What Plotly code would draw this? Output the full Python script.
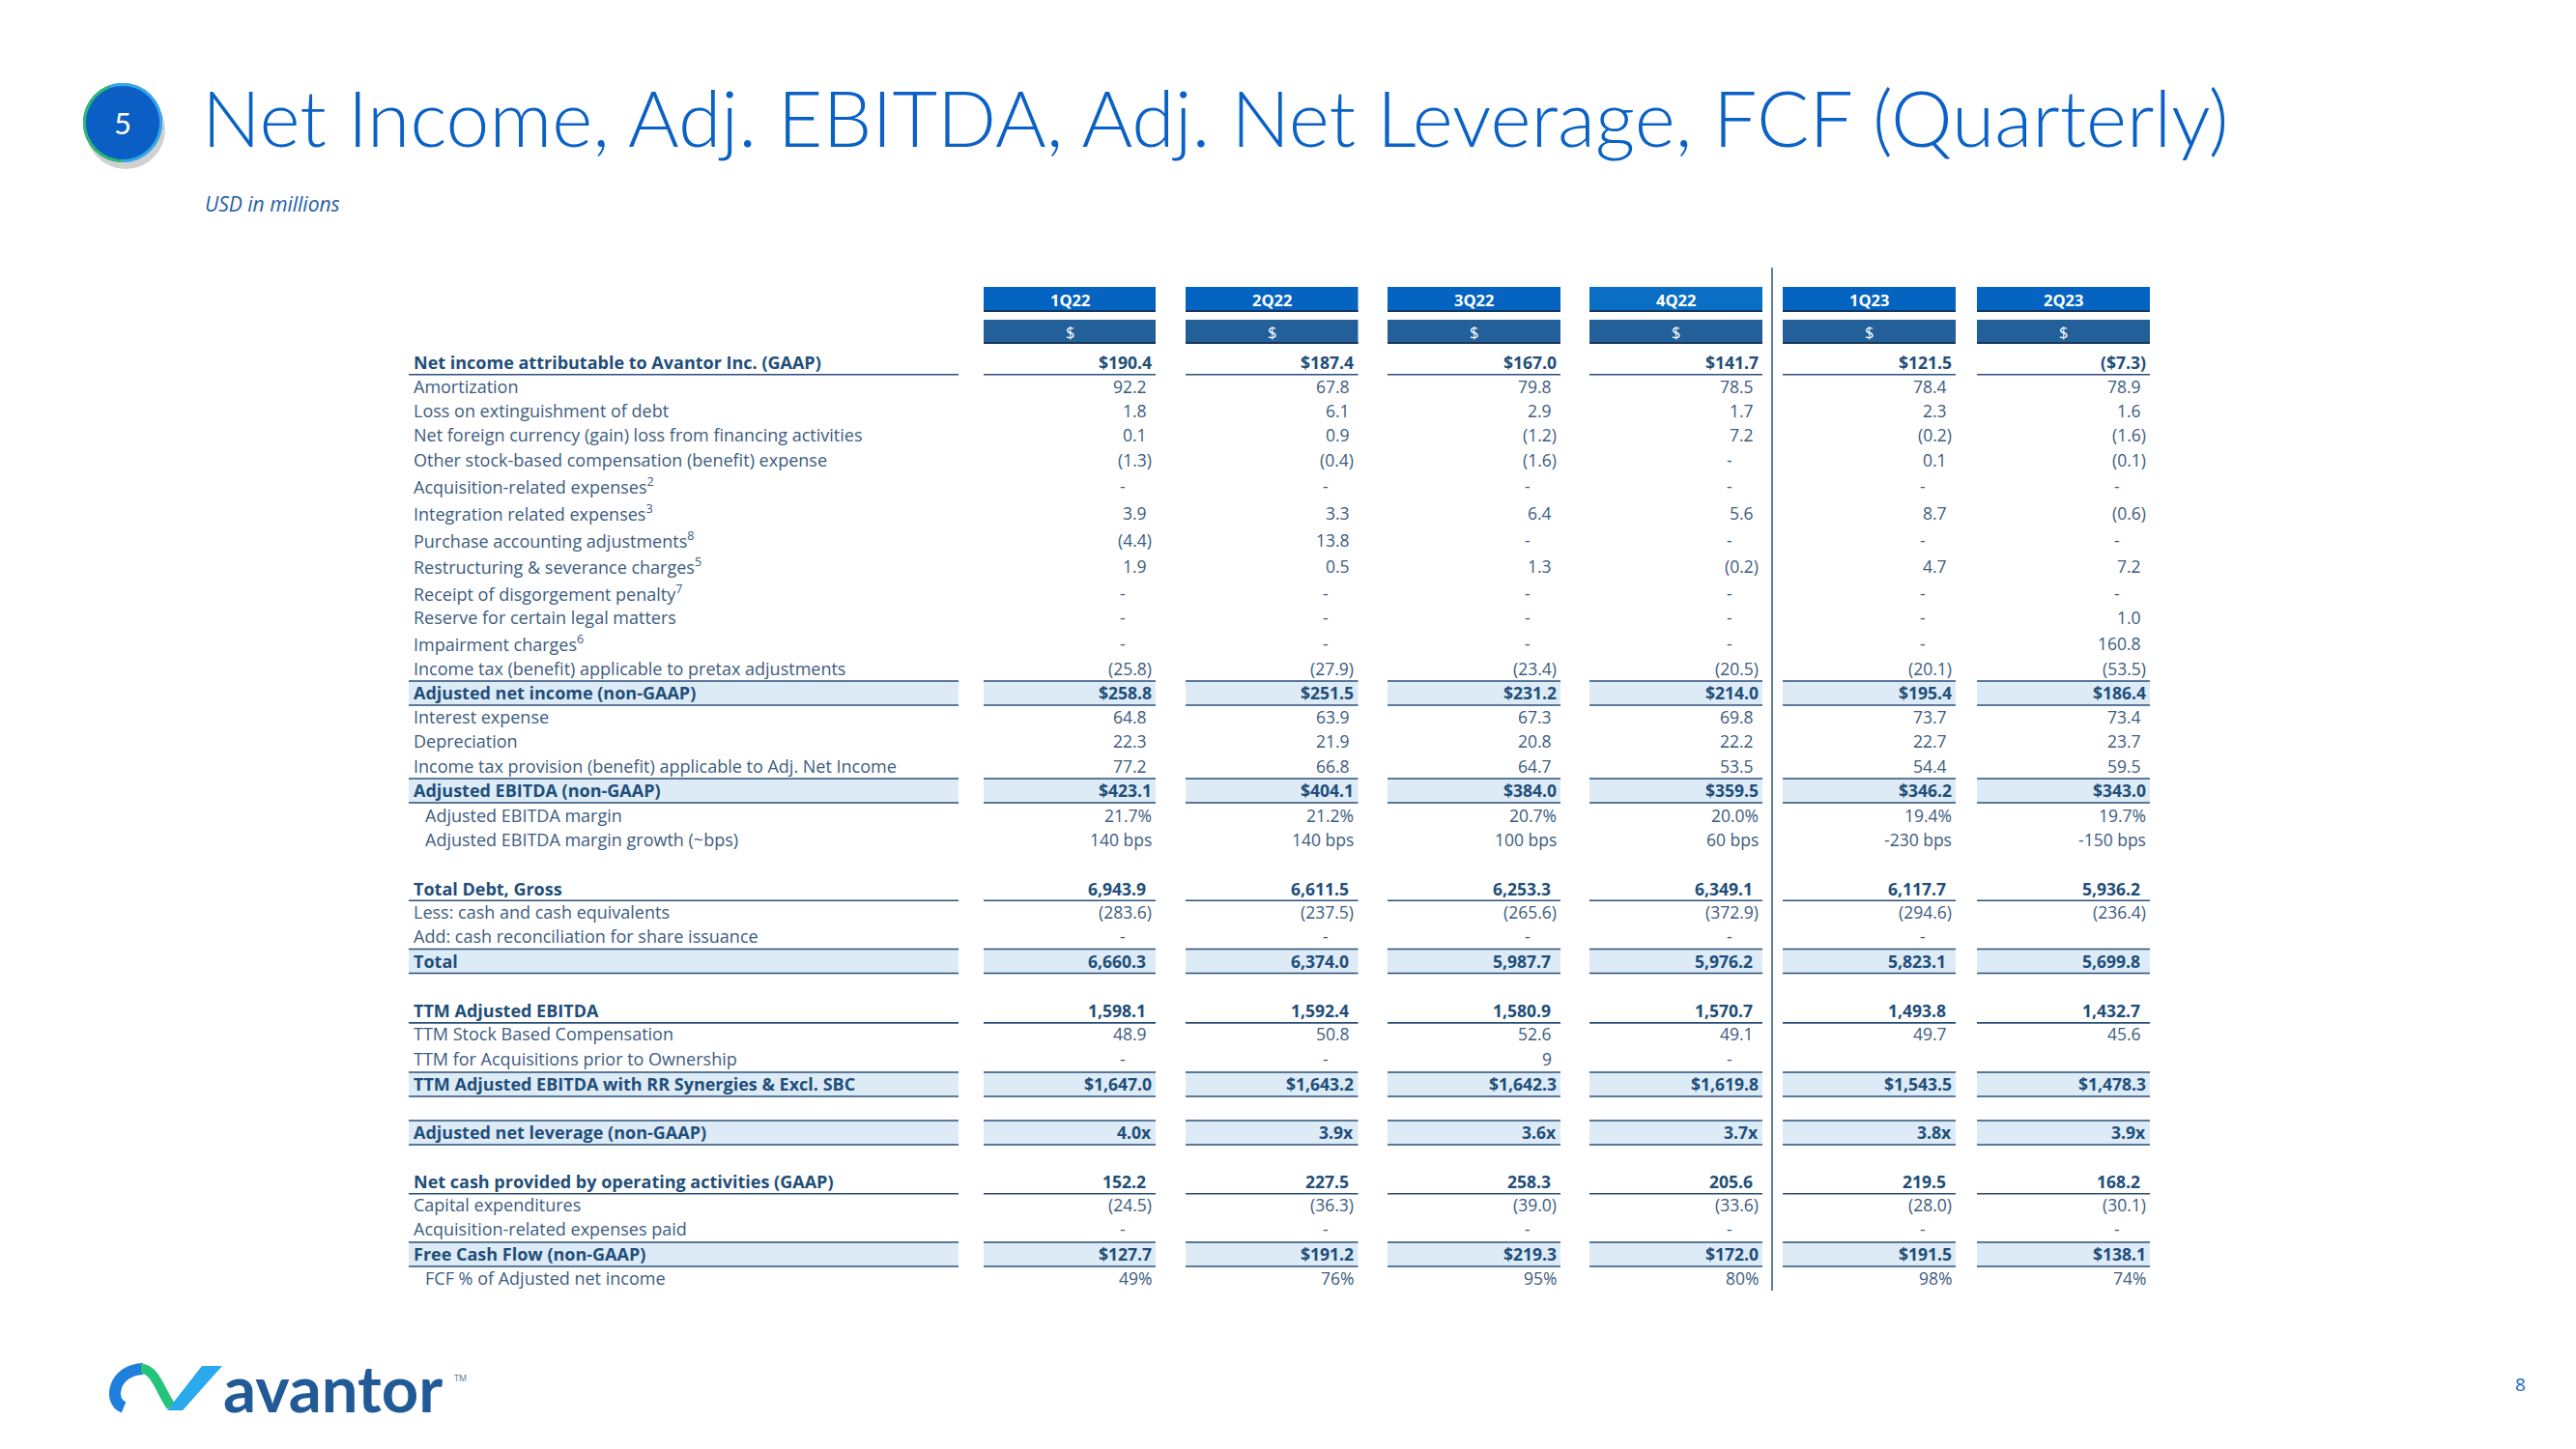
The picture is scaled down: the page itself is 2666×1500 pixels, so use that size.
import math
import plotly.graph_objects as go

W, H = 2666, 1500

# ---------------- data ----------------
quarters = ["1Q22", "2Q22", "3Q22", "4Q22", "1Q23", "2Q23"]

row_labels = [
    "Net income attributable to Avantor Inc. (GAAP)",
    "Amortization",
    "Loss on extinguishment of debt",
    "Net foreign currency (gain) loss from financing activities",
    "Other stock-based compensation (benefit) expense",
    "Acquisition-related expenses<sup>2</sup>",
    "Integration related expenses<sup>3</sup>",
    "Purchase accounting adjustments<sup>8</sup>",
    "Restructuring &amp; severance charges<sup>5</sup>",
    "Receipt of disgorgement penalty<sup>7</sup>",
    "Reserve for certain legal matters",
    "Impairment charges<sup>6</sup>",
    "Income tax (benefit) applicable to pretax adjustments",
    "Adjusted net income (non-GAAP)",
    "Interest expense",
    "Depreciation",
    "Income tax provision (benefit) applicable to Adj. Net Income",
    "Adjusted EBITDA (non-GAAP)",
    "Adjusted EBITDA margin",
    "Adjusted EBITDA margin growth (~bps)",
    "Total Debt, Gross",
    "Less: cash and cash equivalents",
    "Add: cash reconciliation for share issuance",
    "Total",
    "TTM Adjusted EBITDA",
    "TTM Stock Based Compensation",
    "TTM for Acquisitions prior to Ownership",
    "TTM Adjusted EBITDA with RR Synergies &amp; Excl. SBC",
    "Adjusted net leverage (non-GAAP)",
    "Net cash provided by operating activities (GAAP)",
    "Capital expenditures",
    "Acquisition-related expenses paid",
    "Free Cash Flow (non-GAAP)",
    "FCF % of Adjusted net income",
]

row_formats = (["dollar"] + ["num"] * 12 + ["dollar"] + ["num"] * 3 + ["dollar", "pct1", "bps"]
               + ["num"] * 6 + ["int", "dollar", "mult", "num", "num", "num", "dollar", "pct0"])

v_1q22 = [190.4, 92.2, 1.8, 0.1, -1.3, 0, 3.9, -4.4, 1.9, 0, 0, 0, -25.8, 258.8, 64.8, 22.3, 77.2,
          423.1, 21.7, 140, 6943.9, -283.6, 0, 6660.3, 1598.1, 48.9, 0, 1647.0, 4.0, 152.2, -24.5, 0, 127.7, 49]
v_2q22 = [187.4, 67.8, 6.1, 0.9, -0.4, 0, 3.3, 13.8, 0.5, 0, 0, 0, -27.9, 251.5, 63.9, 21.9, 66.8,
          404.1, 21.2, 140, 6611.5, -237.5, 0, 6374.0, 1592.4, 50.8, 0, 1643.2, 3.9, 227.5, -36.3, 0, 191.2, 76]
v_3q22 = [167.0, 79.8, 2.9, -1.2, -1.6, 0, 6.4, 0, 1.3, 0, 0, 0, -23.4, 231.2, 67.3, 20.8, 64.7,
          384.0, 20.7, 100, 6253.3, -265.6, 0, 5987.7, 1580.9, 52.6, 9, 1642.3, 3.6, 258.3, -39.0, 0, 219.3, 95]
v_4q22 = [141.7, 78.5, 1.7, 7.2, 0, 0, 5.6, 0, -0.2, 0, 0, 0, -20.5, 214.0, 69.8, 22.2, 53.5,
          359.5, 20.0, 60, 6349.1, -372.9, 0, 5976.2, 1570.7, 49.1, 0, 1619.8, 3.7, 205.6, -33.6, 0, 172.0, 80]
v_1q23 = [121.5, 78.4, 2.3, -0.2, 0.1, 0, 8.7, 0, 4.7, 0, 0, 0, -20.1, 195.4, 73.7, 22.7, 54.4,
          346.2, 19.4, -230, 6117.7, -294.6, 0, 5823.1, 1493.8, 49.7, None, 1543.5, 3.8, 219.5, -28.0, 0, 191.5, 98]
v_2q23 = [-7.3, 78.9, 1.6, -1.6, -0.1, 0, -0.6, 0, 7.2, 0, 1.0, 160.8, -53.5, 186.4, 73.4, 23.7, 59.5,
          343.0, 19.7, -150, 5936.2, -236.4, None, 5699.8, 1432.7, 45.6, None, 1478.3, 3.9, 168.2, -30.1, 0, 138.1, 74]

series = [v_1q22, v_2q22, v_3q22, v_4q22, v_1q23, v_2q23]

# ---------------- layout / style ----------------
FONT = "Open Sans"
TITLE_FONT = "Lato"
FS = 18
FSV = 17.5
C_TEXT = "#3d5c80"
C_BOLD = "#1f4e79"
C_LINE = "#2a5078"
C_SHADE = "#ddebf7"
C_HEAD = ["#0563c1", "#0563c1", "#0563c1", "#0a6fc4", "#0563c1", "#0563c1"]
C_SUB = "#23609a"
C_TITLE = "#0a61c6"

LABEL_COL = (423, 992)
VALUE_COLS = [(1018, 1196), (1227, 1405.5), (1436, 1615), (1645, 1824), (1845, 2024), (2046, 2225)]
ROW_KIND = (["under"] + ["plain"] * 12 + ["shade"] + ["plain"] * 3 + ["shade", "indent", "indent",
            "under", "plain", "plain", "shade", "under", "plain", "plain", "shade", "shade",
            "under", "plain", "plain", "shade", "indent"])
ROW_STEP = [0, 25, 25, 25, 26, 27, 28, 27.5, 27.5, 27.5, 25.5, 27, 26, 25, 25, 25, 26, 25, 25.5, 25,
            51, 24.7, 24.6, 25.7, 51.7, 23.5, 26, 26.3, 50, 51, 24, 25, 26, 25]
FIRST_Y = 375

row_y = []
acc = FIRST_Y
for s in ROW_STEP:
    acc += s
    row_y.append(acc)


def fmt(v, f):
    if v is None:
        return ""
    if f in ("num", "int"):
        if v == 0:
            return "-"
        s = f"{abs(v):,.1f}" if f == "num" else f"{abs(v):,.0f}"
        return f"({s})" if v < 0 else s
    if f == "dollar":
        s = f"${abs(v):,.1f}"
        return f"({s})" if v < 0 else s
    if f == "pct1":
        return f"{v:.1f}%"
    if f == "pct0":
        return f"{v:.0f}%"
    if f == "bps":
        return f"{v:.0f} bps"
    if f == "mult":
        return f"{v:.1f}x"
    return str(v)


fig = go.Figure()
fig.add_trace(go.Scatter(x=[0, W], y=[0, H], mode="markers", marker=dict(opacity=0), hoverinfo="skip"))

shapes = []
ann = []


def hline(x0, x1, y, w=1.6, color=C_LINE):
    shapes.append(dict(type="line", xref="x", yref="y", x0=x0, x1=x1, y0=y, y1=y,
                       line=dict(color=color, width=w)))


def rect(x0, x1, y0, y1, color):
    shapes.append(dict(type="rect", xref="x", yref="y", x0=x0, x1=x1, y0=y0, y1=y1,
                       fillcolor=color, line=dict(width=0), layer="below"))


def text(x, y, s, size, color, xanchor="left", weight="normal", family=FONT, italic=False):
    ann.append(dict(x=x, y=y, xref="x", yref="y", text=s, showarrow=False, xanchor=xanchor,
                    yanchor="middle", borderpad=0, borderwidth=0,
                    font=dict(family=family, size=size, color=color, weight=weight,
                              style="italic" if italic else "normal")))


# header boxes
for i, (x0, x1) in enumerate(VALUE_COLS):
    rect(x0, x1, 297, 323, C_HEAD[i])
    hline(x0, x1, 322, 2, "#17365d")
    rect(x0, x1, 331, 356, C_SUB)
    hline(x0, x1, 355, 2, "#17365d")
    text((x0 + x1) / 2, 310, quarters[i], 16.5, "white", "center", "bold")
    text((x0 + x1) / 2, 343.5, "$", 16.5, "white", "center")

# vertical divider
shapes.append(dict(type="line", xref="x", yref="y", x0=1834, x1=1834, y0=277, y1=1336,
                   line=dict(color=C_LINE, width=1.5)))

# rows
all_cols = [LABEL_COL] + VALUE_COLS
for r, lab in enumerate(row_labels):
    y = row_y[r]
    kind = ROW_KIND[r]
    bold = kind in ("under", "shade")
    if kind == "shade":
        for (x0, x1) in all_cols:
            rect(x0, x1, y - 12, y + 13, C_SHADE)
            hline(x0, x1, y - 12)
            hline(x0, x1, y + 13)
    if kind == "under":
        for (x0, x1) in all_cols:
            hline(x0, x1, y + 12.7)
    lx = 440 if kind == "indent" else 428
    text(lx, y, lab, FS, C_BOLD if bold else C_TEXT, "left", "bold" if bold else "normal")
    for c, (x0, x1) in enumerate(VALUE_COLS):
        s = fmt(series[c][r], row_formats[r])
        if s == "":
            continue
        col = C_BOLD if bold else C_TEXT
        wt = "bold" if bold else "normal"
        if s == "-":
            text(x1 - 34, y, s, FSV, col, "center", wt)
        else:
            if s[-1].isdigit() and not s.startswith("$"):
                off = 10 if bold else 9
            else:
                off = 4.5
            text(x1 - off, y, s, FSV, col, "right", wt)

# title area
cx, cy, rr = 127, 127, 41
shapes.append(dict(type="circle", xref="x", yref="y", x0=cx - rr + 3, x1=cx + rr + 3, y0=cy - rr + 7,
                   y1=cy + rr + 7, fillcolor="rgba(90,90,90,0.28)", line=dict(width=0)))
shapes.append(dict(type="circle", xref="x", yref="y", x0=cx - rr, x1=cx + rr, y0=cy - rr, y1=cy + rr,
                   fillcolor="#0a5ec4", line=dict(width=0)))


def arc_path(a0, a1, r):
    pts = []
    n = 40
    for k in range(n + 1):
        a = math.radians(a0 + (a1 - a0) * k / n)
        pts.append((cx + r * math.cos(a), cy + r * math.sin(a)))
    return "M " + " L ".join(f"{px:.2f},{py:.2f}" for px, py in pts)


shapes.append(dict(type="path", xref="x", yref="y", path=arc_path(90, 250, rr - 1.5),
                   line=dict(color="#2eb872", width=3)))
shapes.append(dict(type="path", xref="x", yref="y", path=arc_path(250, 450, rr - 1.5),
                   line=dict(color="#34a8ec", width=3)))
text(cx, cy, "5", 31, "white", "center", family=TITLE_FONT)

text(209, 121, "Net Income, Adj. EBITDA, Adj. Net Leverage, FCF (Quarterly)", 80.5, C_TITLE, "left", 300,
     family=TITLE_FONT)
text(212, 211, "USD in millions", 21, "#1f5cab", "left", "normal", italic=True)

# logo icon
shapes.append(dict(type="path", xref="x", yref="y", path="M 128,1457 C 111,1450 118,1418 148,1417",
                   line=dict(color="#1e7fdc", width=12)))
shapes.append(dict(type="path", xref="x", yref="y", path="M 146,1417 C 160,1416 166,1440 177,1456",
                   line=dict(color="#25c47a", width=10)))
shapes.append(dict(type="path", xref="x", yref="y", path="M 173,1460 L 189,1460 L 230,1414 L 209,1414 Z",
                   fillcolor="#2aa9ec", line=dict(width=0)))
text(231, 1436, "avantor", 67, "#215a97", "left", "bold", family=TITLE_FONT)
text(470, 1426, "TM", 9, "#5a7898", "left")
text(2608, 1433, "8", 19, "#1a66c8", "center")

fig.update_layout(
    width=W, height=H, margin=dict(l=0, r=0, t=0, b=0),
    paper_bgcolor="white", plot_bgcolor="white", showlegend=False,
    xaxis=dict(range=[0, W], visible=False, fixedrange=True),
    yaxis=dict(range=[H, 0], visible=False, fixedrange=True),
    shapes=shapes, annotations=ann,
)

fig.write_html("out.html", config={"displayModeBar": False},
               post_script="document.body.style.margin='0';")
